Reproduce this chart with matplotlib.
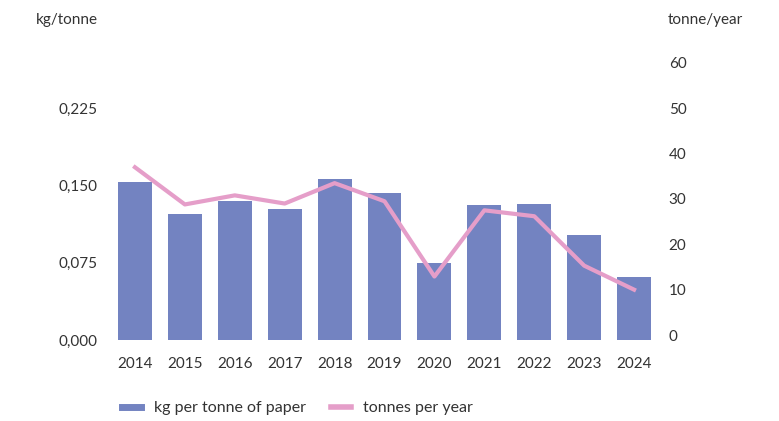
import matplotlib.pyplot as plt
from matplotlib.lines import Line2D
from matplotlib.ticker import FuncFormatter

years = ['2014', '2015', '2016', '2017', '2018', '2019', '2020', '2021', '2022', '2023', '2024']
kg_per_tonne = [0.153, 0.122, 0.135, 0.127, 0.156, 0.143, 0.075, 0.131, 0.132, 0.102, 0.061]
tonnes_per_year = [37.0, 28.8, 30.8, 29.0, 33.5, 29.5, 12.9, 27.5, 26.2, 15.3, 10.0]

left_ticks = [0, 0.075, 0.150, 0.225]
right_ticks = [0, 10, 20, 30, 40, 50, 60]

bar_color = '#7383c1'
line_color = '#e59ec9'
text_color = '#333333'

plt.rcParams['font.family'] = ['Lato', 'DejaVu Sans']
fs = 11

fig = plt.figure(figsize=(7.79, 4.21), dpi=100)
ax = fig.add_axes([0.1412, 0.1924, 0.7048, 0.658])
ax2 = ax.twinx()

x = list(range(len(years)))
ax.bar(x, kg_per_tonne, width=0.68, color=bar_color, zorder=1)
ax2.plot(x, tonnes_per_year, color=line_color, linewidth=3, solid_joinstyle='round', zorder=2)

ax.set_xlim(-0.5, len(years) - 0.5)
ax.set_ylim(0, 0.2687)
ax2.set_ylim(-1.1, 60)
ax.set_xticks(x)
ax.set_xticklabels(years)
ax.set_yticks(left_ticks)
ax.yaxis.set_major_formatter(FuncFormatter(lambda v, p: ('%.3f' % v).replace('.', ',')))
ax2.set_yticks(right_ticks)

for a in (ax, ax2):
    for s in a.spines.values():
        s.set_visible(False)
    a.tick_params(length=0, colors=text_color, labelsize=fs)
ax.tick_params(axis='y', pad=9)
ax.tick_params(axis='x', pad=12)
ax2.tick_params(axis='y', pad=7)

fig.text(0.126, 0.952, 'kg/tonne', ha='right', va='center', color=text_color, fontsize=fs)
fig.text(0.857, 0.952, 'tonne/year', ha='left', va='center', color=text_color, fontsize=fs)

handles = [Line2D([0], [0], color=bar_color, linewidth=5),
           Line2D([0], [0], color=line_color, linewidth=4)]
fig.legend(handles, ['kg per tonne of paper', 'tonnes per year'],
           loc='center left', bbox_to_anchor=(0.138, 0.03), ncol=2, frameon=False,
           handlelength=1.2, handletextpad=0.8, columnspacing=1.6,
           labelcolor=text_color, fontsize=11.5)

fig.savefig('out.png')
